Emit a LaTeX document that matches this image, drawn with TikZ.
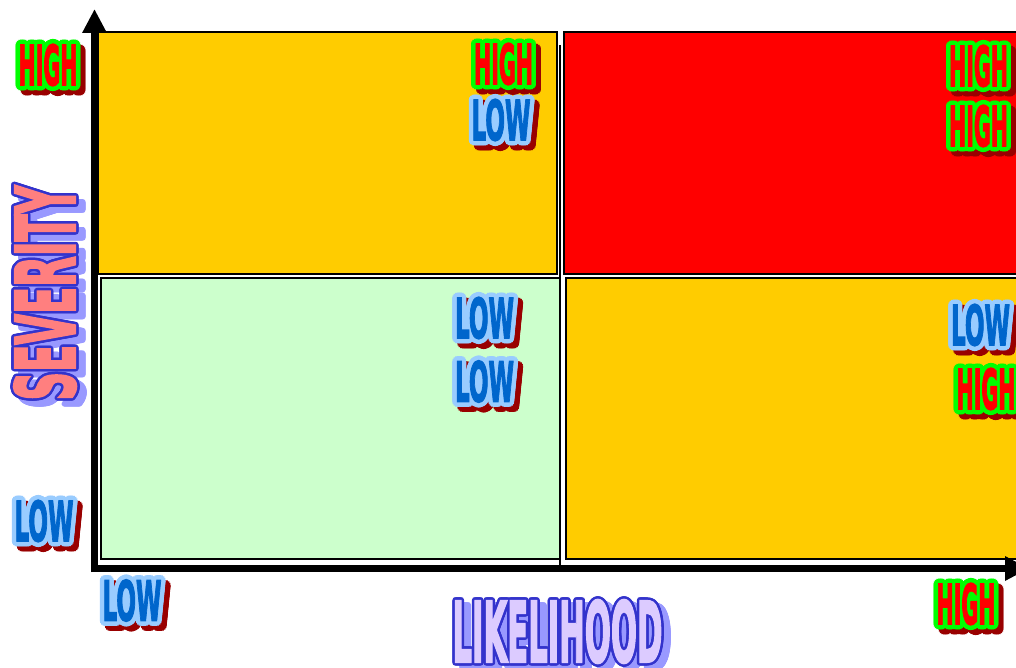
\documentclass[tikz,border=0pt]{standalone}
\usepackage{fontspec}
\setmainfont{DejaVu Sans}[BoldFeatures={FakeBold=3}]
\usetikzlibrary{calc,arrows.meta}
\definecolor{qorange}{HTML}{FFCC00}
\definecolor{qred}{HTML}{FF0000}
\definecolor{qgreen}{HTML}{CCFFCC}
\definecolor{hifill}{HTML}{FF0000}
\definecolor{hiline}{HTML}{00FF00}
\definecolor{shadowred}{HTML}{990000}
\definecolor{lofill}{HTML}{0066CC}
\definecolor{loline}{HTML}{99CCFF}
\definecolor{sevfill}{HTML}{FF7F7F}
\definecolor{axline}{HTML}{3333CC}
\definecolor{axshadow}{HTML}{9999FF}
\definecolor{likfill}{HTML}{DCCBFF}
\newcommand\txtHigh{\resizebox{59pt}{41pt}{\bfseries HIGH}}
\newcommand\txtLow{\resizebox{59pt}{41pt}{\bfseries LOW}}
\newcommand\txtSev{\resizebox{215pt}{61pt}{\bfseries SEVERITY}}
\newcommand\txtLik{\resizebox{210pt}{62pt}{\bfseries LIKELIHOOD}}
% #1 name, #2 position, #3 content, #4 fill, #5 outline, #6 shadow, #7 outline radius, #8 shadow offset, #9 rotation
\newcommand\fancy[9]{%
  \foreach \ang in {0,22.5,...,337.5}{\node[inner sep=0,text=#6,rotate=#9] at ($#2+(#8)+(\ang:#7)$) {#3};}
  \foreach \ang in {0,22.5,...,337.5}{\node[inner sep=0,text=#5,rotate=#9] at ($#2+(\ang:#7)$) {#3};}
  \node[inner sep=0,text=#4,rotate=#9] (#1) at #2 {#3};
}
\begin{document}
\begin{tikzpicture}[x=1pt,y=-1pt,
  box/.style={draw=black,line width=2pt},
  axis/.style={line width=7pt,-{Triangle[length=24pt,width=23pt]}}]
\useasboundingbox (0,0) rectangle (1016,668);
\clip (0,0) rectangle (1016,668);
\fill[white] (0,0) rectangle (1016,668);
% divider line
\coordinate (divtop) at (560,45);
\coordinate (divbot) at (560,566);
\draw[line width=1.5pt] (divtop) -- (divbot);
% quadrants
\draw[box,fill=qorange] (98,32) rectangle (557,274);
\draw[box,fill=qred] (564,32) rectangle (1030,274);
\draw[box,fill=qgreen] (101,278) rectangle (560,559);
\draw[box,fill=qorange] (566,278) rectangle (1030,559);
% axes
\coordinate (orig) at (94.5,572);
\coordinate (ytip) at (94.5,9);
\coordinate (xstart) at (91,568.5);
\coordinate (xtip) at (1029,568.5);
\draw[axis] (orig) -- (ytip);
\draw[axis] (xstart) -- (xtip);
% labels
\fancy{yhigh}{(48,65)}{\txtHigh}{hifill}{hiline}{shadowred}{4.5}{5,5}{0}
\fancy{ylow}{(44,521)}{\txtLow}{lofill}{loline}{shadowred}{4.5}{5,5}{0}
\fancy{xlow}{(132,600.5)}{\txtLow}{lofill}{loline}{shadowred}{4.5}{5,5}{0}
\fancy{xhigh}{(966,604)}{\txtHigh}{hifill}{hiline}{shadowred}{4.5}{5,5}{0}
\fancy{tlS}{(503.5,64)}{\txtHigh}{hifill}{hiline}{shadowred}{4.5}{5,5}{0}
\fancy{tlL}{(501,120)}{\txtLow}{lofill}{loline}{shadowred}{4.5}{5,5}{0}
\fancy{trS}{(978.5,66)}{\txtHigh}{hifill}{hiline}{shadowred}{4.5}{5,5}{0}
\fancy{trL}{(978.5,126)}{\txtHigh}{hifill}{hiline}{shadowred}{4.5}{5,5}{0}
\fancy{blS}{(484.5,318)}{\txtLow}{lofill}{loline}{shadowred}{4.5}{5,5}{0}
\fancy{blL}{(484.5,381.5)}{\txtLow}{lofill}{loline}{shadowred}{4.5}{5,5}{0}
\fancy{brS}{(980.5,325)}{\txtLow}{lofill}{loline}{shadowred}{4.5}{5,5}{0}
\fancy{brL}{(986,389)}{\txtHigh}{hifill}{hiline}{shadowred}{4.5}{5,5}{0}
\fancy{sev}{(45,293)}{\txtSev}{sevfill}{axline}{axshadow}{2.5}{7,6}{90}
\fancy{lik}{(557.5,631.5)}{\txtLik}{likfill}{axline}{axshadow}{2.5}{7,5}{0}
\end{tikzpicture}
\end{document}
